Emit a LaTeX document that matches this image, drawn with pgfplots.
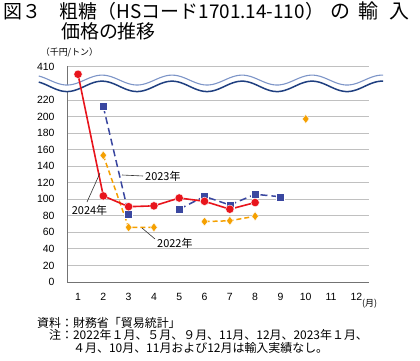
\documentclass[border=0pt]{standalone}
\usepackage{fontspec}
\setmainfont{Liberation Sans}
\newfontfamily\jp{Noto Sans CJK JP}
\usepackage{pgfplots}
\pgfplotsset{compat=1.18}
\definecolor{cred}{HTML}{E8141C}
\definecolor{cblue}{HTML}{3A47A0}
\definecolor{corange}{HTML}{F5A000}
\definecolor{wavedark}{HTML}{1F3F80}
\definecolor{wavelight}{HTML}{7D95C8}
\definecolor{gridgray}{HTML}{C0C0C0}
\begin{document}
\begin{tikzpicture}
\useasboundingbox (0,0) rectangle (420bp,-361bp);
\begin{axis}[
  name=ax, at={(67bp,-282bp)}, anchor=south west,
  scale only axis, width=302bp, height=216bp,
  xmin=0.565, xmax=12.5, ymin=0, ymax=261,
  axis x line*=bottom, axis y line*=left,
  axis line style={draw=black!55, line width=0.8bp, -},
  xtick={1,...,12},
  ytick={0,20,40,60,80,100,120,140,160,180,200,220,260},
  yticklabels={0,20,40,60,80,100,120,140,160,180,200,220,410},
  ymajorgrids, grid style={gridgray, line width=0.8bp},
  major tick length=0,
  /pgf/number format/assume math mode=true,
  tick label style={font=\fontsize{10.5}{12}\selectfont},
  xticklabel style={yshift=-8bp}, yticklabel style={xshift=-9bp},
  clip=false, unbounded coords=jump,
]
% axis break (wavy lines)
\fill[white] plot[domain=-0.55:13.06, samples=120, variable=\t] ({\t},{244+6*cos(360*(\t-1.949)/2.767)})
   -- plot[domain=13.06:-0.55, samples=120, variable=\t] ({\t},{236.4+6.3*cos(360*(\t-1.949)/2.767)}) -- cycle;
\draw[wavelight, line width=1.1bp] plot[domain=-0.55:13.06, samples=120, variable=\t] ({\t},{244+6*cos(360*(\t-1.949)/2.767)});
\draw[wavedark, line width=1.5bp] plot[domain=-0.55:13.06, samples=120, variable=\t] ({\t},{236.4+6.3*cos(360*(\t-1.949)/2.767)});
% 2022
\addplot[corange, line width=1.5bp, dash pattern=on 5bp off 3bp, mark=diamond*, mark size=4.5bp,
  mark options={solid, fill=corange, draw=white, line width=0.4bp}]
  coordinates {(2,153)(3,66)(4,66)(5,nan)(6,73)(7,74)(8,79.5)(9,nan)(10,197)};
% 2023
\addplot[cblue, line width=1.5bp, dash pattern=on 7bp off 4bp, mark=square*, mark size=4bp,
  mark options={solid, fill=cblue, draw=white, line width=0.4bp}]
  coordinates {(2,212)(3,82)(4,nan)(5,88)(6,103.5)(7,93)(8,106)(9,103)};
% 2024 (Jan value drawn above the axis break, at the 410 level)
\addplot[cred, line width=1.6bp, mark=*, mark size=4.2bp,
  mark options={fill=cred, draw=white, line width=0.4bp}]
  coordinates {(1,251)(2,104)(3,91)(4,92)(5,101.5)(6,97.5)(7,88)(8,96)};
\end{axis}
\begin{scope}[x=1bp, y=-1bp]
\node[anchor=west, inner sep=0, font=\jp\fontsize{19}{22}\selectfont] at (3,11) {図３　粗糖（HSコード1701.14-110）};
\node[anchor=west, inner sep=0, font=\jp\fontsize{20}{22}\selectfont] at (330,11) {の\hspace{8bp}輸\hspace{11bp}入};
\node[anchor=west, inner sep=0, font=\jp\fontsize{19}{22}\selectfont] at (61,31) {価格の推移};
\node[inner sep=0, font=\jp\fontsize{9}{10}\selectfont] at (69.5,52) {（千円/トン）};
\node[anchor=west, inner sep=0, font=\jp\fontsize{9}{10}\selectfont] at (362,304) {(月)};
% annotations
\draw[black!80, line width=0.6bp] (122,175) -- (143,176);
\node[anchor=west, inner sep=0, font=\jp\fontsize{11}{12}\selectfont] at (145,176) {2023年};
\draw[black!80, line width=0.6bp] (100,173) -- (87,202);
\node[inner sep=0, font=\jp\fontsize{11}{12}\selectfont] at (89.5,210) {2024年};
\draw[black!80, line width=0.6bp] (142,228) -- (155,239);
\node[anchor=west, inner sep=0, font=\jp\fontsize{11}{12}\selectfont] at (157,243) {2022年};
% footnotes
\node[anchor=west, inner sep=0, font=\jp\fontsize{12}{13}\selectfont] at (37,323) {資料：財務省「貿易統計」};
\node[anchor=west, inner sep=0, font=\jp\fontsize{12}{13}\selectfont] at (49,335) {注：2022年１月、５月、９月、11月、12月、2023年１月、};
\node[anchor=west, inner sep=0, font=\jp\fontsize{12}{13}\selectfont] at (73,348) {４月、10月、11月および12月は輸入実績なし。};
\end{scope}
\end{tikzpicture}
\end{document}
